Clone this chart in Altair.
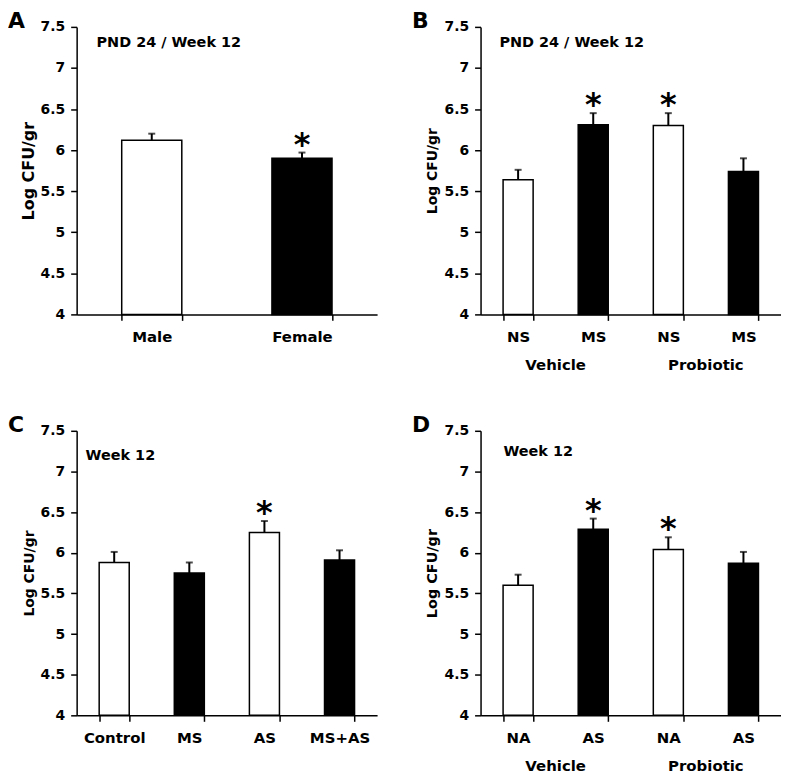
import altair as alt
import pandas as pd

FONT = "DejaVu Sans"

# ---- data -------------------------------------------------------------
y_ticks = [4, 4.5, 5, 5.5, 6, 6.5, 7, 7.5]

# Panel A
a_groups = ["", ""]
a_labels = ["Male", "Female"]
a_shade = ["open", "filled"]
a_mean = [6.12, 5.90]
a_err = [6.20, 5.97]
a_star = ["", "*"]

# Panel B
b_groups = ["Vehicle", "Vehicle", "Probiotic", "Probiotic"]
b_labels = ["NS", "MS", "NS", "MS"]
b_shade = ["open", "filled", "open", "filled"]
b_mean = [5.64, 6.31, 6.30, 5.74]
b_err = [5.76, 6.45, 6.45, 5.90]
b_star = ["", "*", "*", ""]

# Panel C
c_groups = ["", "", "", ""]
c_labels = ["Control", "MS", "AS", "MS+AS"]
c_shade = ["open", "filled", "open", "filled"]
c_mean = [5.88, 5.75, 6.25, 5.91]
c_err = [6.01, 5.88, 6.39, 6.03]
c_star = ["", "", "*", ""]

# Panel D
d_groups = ["Vehicle", "Vehicle", "Probiotic", "Probiotic"]
d_labels = ["NA", "AS", "NA", "AS"]
d_shade = ["open", "filled", "open", "filled"]
d_mean = [5.60, 6.29, 6.04, 5.87]
d_err = [5.73, 6.42, 6.19, 6.01]
d_star = ["", "*", "*", ""]

W = 302


def panel(letter, note, note_x, note_y, groups, labels, shade, mean, err, star,
          height, ytitle_size):
    keys = [f"{g}|{l}" if g else l for g, l in zip(groups, labels)]
    df = pd.DataFrame(dict(key=keys, shade=shade, mean=mean, err=err, star=star))
    xscale = alt.Scale(domain=keys, paddingInner=0.6, paddingOuter=0.3)
    yscale = alt.Scale(domain=[4, 7.5], nice=False, zero=False)
    xenc = alt.X("key:N", sort=keys, scale=xscale, title=None,
                 axis=alt.Axis(labelExpr="peek(split(datum.label, '|'))",
                               labelAngle=0, tickBand="extent"))
    yenc = alt.Y("mean:Q", scale=yscale,
                 axis=alt.Axis(values=y_ticks, format="~g", title="Log CFU/gr",
                               titleFontSize=ytitle_size))
    base = alt.Chart(df)
    bars = base.mark_bar(stroke="black", strokeWidth=1.5).encode(
        x=xenc, y=yenc, y2=alt.datum(4),
        fill=alt.Fill("shade:N",
                      scale=alt.Scale(domain=["open", "filled"], range=["white", "black"]),
                      legend=None))
    xplain = alt.X("key:N", sort=keys, scale=xscale)
    whisk = base.mark_rule(color="black", strokeWidth=2).encode(
        x=xplain, y=alt.Y("mean:Q", scale=yscale), y2="err:Q")
    cap = base.mark_tick(color="black", thickness=2, size=7).encode(
        x=xplain, y=alt.Y("err:Q", scale=yscale))
    stars = base.mark_text(font=FONT, fontSize=32, fontWeight="bold",
                           baseline="alphabetic", dy=2, color="black").encode(
        x=xplain, y=alt.Y("err:Q", scale=yscale), text="star:N")
    lab = alt.Chart(pd.DataFrame({"t": [letter]})).mark_text(
        font=FONT, fontSize=22, fontWeight="bold", align="left",
        baseline="alphabetic", color="black").encode(
        x=alt.value(-69), y=alt.value(1), text="t:N")
    nt = alt.Chart(pd.DataFrame({"t": [note]})).mark_text(
        font=FONT, fontSize=14.5, fontWeight="bold", align="left",
        baseline="alphabetic", color="black").encode(
        x=alt.value(note_x), y=alt.value(note_y), text="t:N")
    inner = alt.layer(bars, whisk, cap, stars, lab, nt)
    gnames = []
    for g in groups:
        if g and g not in gnames:
            gnames.append(g)
    if gnames:
        gdf = pd.DataFrame({"g": gnames})
        gl = alt.Chart(gdf).mark_text(
            font=FONT, fontSize=15, fontWeight="bold",
            baseline="alphabetic", color="black").encode(
            x=alt.X("g:N", sort=gnames,
                    scale=alt.Scale(paddingInner=0, paddingOuter=0), axis=None),
            y=alt.value(height + 56), text="g:N")
        out = alt.layer(inner, gl).resolve_scale(x="independent")
    else:
        out = inner
    return out.properties(width=W, height=height)


A = panel("A", "PND 24 / Week 12", 20, 20, a_groups, a_labels, a_shade, a_mean, a_err, a_star, 289, 16)
B = panel("B", "PND 24 / Week 12", 19, 20, b_groups, b_labels, b_shade, b_mean, b_err, b_star, 289, 14)
C = panel("C", "Week 12", 9, 29, c_groups, c_labels, c_shade, c_mean, c_err, c_star, 286, 14)
D = panel("D", "Week 12", 23, 25, d_groups, d_labels, d_shade, d_mean, d_err, d_star, 286, 14.5)

chart = alt.vconcat(
    alt.hconcat(A, B, spacing=35),
    alt.hconcat(C, D, spacing=35),
    spacing=41,
).properties(padding=0, background="white").configure_view(stroke=None).configure_axis(
    domainColor="black", domainWidth=1.5, tickColor="black", tickWidth=1.5,
    tickSize=6, labelFont=FONT, labelFontWeight="bold", labelColor="black",
    titleFont=FONT, titleFontWeight="bold", titleColor="black", grid=False,
).configure_axisY(
    labelFontSize=14, labelPadding=6, titlePadding=4,
).configure_axisX(
    labelFontSize=15, labelPadding=9,
)

chart.save("out.html", embed_options={"renderer": "svg", "actions": False})
